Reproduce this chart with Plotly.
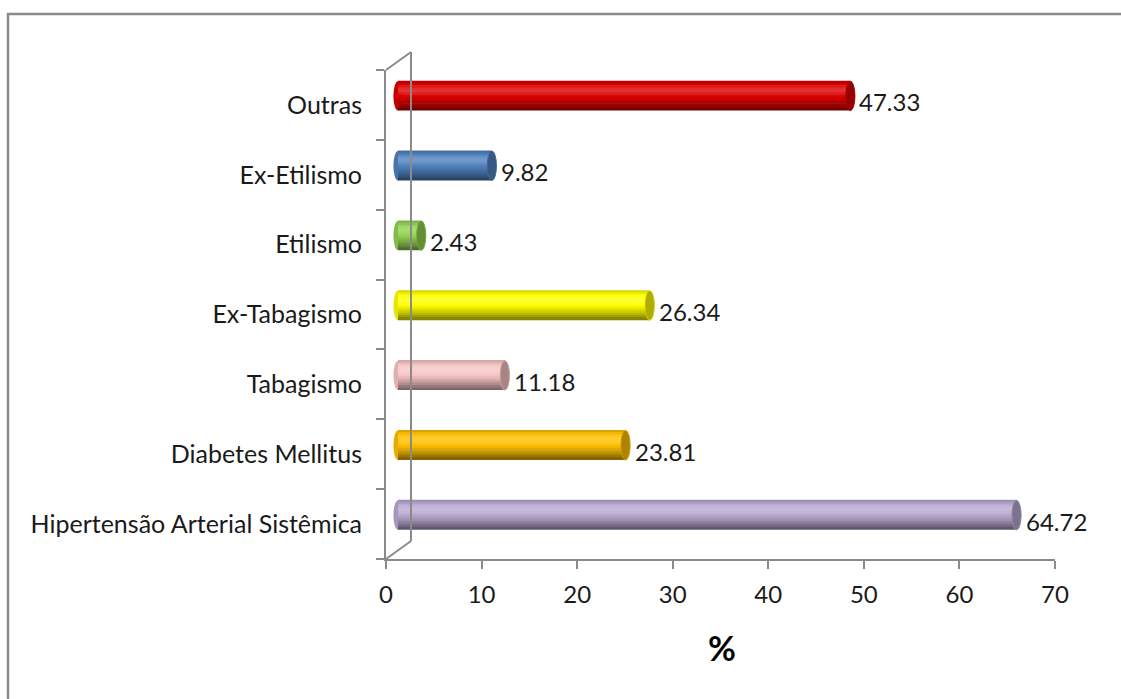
import plotly.graph_objects as go

# Risk factors (bottom to top) and their percentages
categories = [
    "Hipertensão Arterial Sistêmica",
    "Diabetes Mellitus",
    "Tabagismo",
    "Ex-Tabagismo",
    "Etilismo",
    "Ex-Etilismo",
    "Outras",
]
values = [64.72, 23.81, 11.18, 26.34, 2.43, 9.82, 47.33]
bar_colors = ["#B8A7D0", "#FFC000", "#F7C4C4", "#FFFF00", "#92D050", "#4F81BD", "#DD0000"]
x_ticks = [0, 10, 20, 30, 40, 50, 60, 70]
axis_title = "%"

FONT = "Lato"
GRAY = "#8A8A8A"
TEXT = "#1a1a1a"
W, H = 1121, 699

# plot-area geometry in pixels
PL, PR, PT, PB = 386, 1067, 61, 559
FRONT_RIGHT = 1055          # x=70 on the front (tick) axis
DEPTH_X, DEPTH_Y = 12, 9    # half depth of the 3-D box
ppu = (FRONT_RIGHT - PL) / 70.0


def fx(p):
    return (p - PL) / (PR - PL)


def fy(p):
    return (PB - p) / (PB - PT)


def hex_rgb(c):
    c = c.lstrip("#")
    return [int(c[i:i + 2], 16) for i in (0, 2, 4)]


def shade(c, k):
    r, g, b = hex_rgb(c)
    if k >= 1:
        t = k - 1
        r, g, b = [v + (255 - v) * t for v in (r, g, b)]
    else:
        r, g, b = [v * k for v in (r, g, b)]
    return "rgb(%d,%d,%d)" % tuple(max(0, min(255, round(v))) for v in (r, g, b))


# cylinder shading profile, top edge -> bottom edge
profile = [0.86, 0.95, 1.08, 1.18, 1.2, 1.12, 1.02, 0.95, 0.88, 0.8, 0.72, 0.62, 0.52]
N = len(profile)
BW = 0.42
dw = BW / N
pos = list(range(len(categories)))

fig = go.Figure()

# empty trace so the front axes are drawn
fig.add_trace(go.Scatter(x=[None], y=[None], xaxis="x", yaxis="y",
                         showlegend=False, hoverinfo="skip"))

for j, k in enumerate(profile):
    fig.add_trace(go.Bar(
        x=values, y=pos, orientation="h",
        xaxis="x2", yaxis="y2",
        width=dw * 1.25,
        offset=BW / 2 - (j + 1) * dw,
        marker=dict(color=[shade(c, k) for c in bar_colors], line=dict(width=0)),
        showlegend=False, hoverinfo="skip",
    ))

shapes = []
cap_w = 4.6 / ppu
for i, (v, c) in enumerate(zip(values, bar_colors)):
    # rounded start of each cylinder
    shapes.append(dict(type="circle", xref="x2", yref="y2", layer="below",
                       x0=-cap_w, x1=cap_w, y0=i - BW / 2, y1=i + BW / 2,
                       fillcolor=shade(c, 0.9), line=dict(width=0)))
    # end face of each cylinder
    shapes.append(dict(type="circle", xref="x2", yref="y2", layer="above",
                       x0=v - cap_w, x1=v + cap_w, y0=i - BW / 2, y1=i + BW / 2,
                       fillcolor=shade(c, 0.68), line=dict(color=shade(c, 0.8), width=1)))

# side wall of the 3-D box
wall = dict(color=GRAY, width=2)
BACK = PL + 2 * DEPTH_X + 1
shapes += [
    dict(type="line", xref="paper", yref="paper",
         x0=fx(BACK), x1=fx(BACK), y0=fy(52), y1=fy(541), line=wall),
    dict(type="line", xref="paper", yref="paper",
         x0=fx(PL), x1=fx(BACK), y0=fy(70), y1=fy(52), line=wall),
    dict(type="line", xref="paper", yref="paper",
         x0=fx(PL), x1=fx(BACK), y0=fy(PB), y1=fy(541), line=wall),
    # chart frame
    dict(type="rect", xref="paper", yref="paper",
         x0=fx(8), x1=fx(W + 10), y0=fy(14), y1=fy(H + 10),
         line=dict(color=GRAY, width=2.5), fillcolor="rgba(0,0,0,0)"),
]

annotations = [
    dict(x=v, y=i, xref="x2", yref="y2", text="%.2f" % v, showarrow=False,
         xanchor="left", yanchor="middle", xshift=7, yshift=-6,
         font=dict(family=FONT, size=24, color=TEXT))
    for i, v in enumerate(values)
]
annotations.append(dict(x=fx(722), y=fy(647), xref="paper", yref="paper",
                        text="<b>%s</b>" % axis_title, showarrow=False,
                        xanchor="center", yanchor="middle",
                        font=dict(family=FONT, size=34, color="black")))

fig.update_layout(
    width=W, height=H,
    margin=dict(l=PL, r=W - PR, t=PT, b=H - PB, pad=0),
    paper_bgcolor="white", plot_bgcolor="rgba(0,0,0,0)",
    barmode="overlay",
    font=dict(family=FONT, size=24, color=TEXT),
    xaxis=dict(domain=[0, fx(FRONT_RIGHT)], range=[0, 70], tickvals=x_ticks,
               anchor="y", ticks="outside", ticklen=8, tickwidth=2, tickcolor=GRAY,
               showline=True, linecolor=GRAY, linewidth=2, showgrid=False,
               zeroline=False, ticklabelstandoff=5, fixedrange=True),
    yaxis=dict(domain=[0, fy(70)], range=[-0.5, 6.5], tickvals=pos, ticktext=categories,
               anchor="x", ticks="", showline=True, linecolor=GRAY, linewidth=2,
               showgrid=False, zeroline=False, ticklabelstandoff=17, fixedrange=True,
               tickfont=dict(size=25),
               minor=dict(tickvals=[p - 0.5 for p in pos] + [6.5], ticks="outside",
                          ticklen=8, tickwidth=2, tickcolor=GRAY, showgrid=False)),
    xaxis2=dict(domain=[fx(PL + DEPTH_X - ppu), 1], range=[-1, 70], anchor="y2",
                visible=False, fixedrange=True),
    yaxis2=dict(domain=[fy(PB - DEPTH_Y), 1], range=[-0.5, 6.5], anchor="x2",
                visible=False, fixedrange=True),
    shapes=shapes,
    annotations=annotations,
)

fig.write_html("out.html")
